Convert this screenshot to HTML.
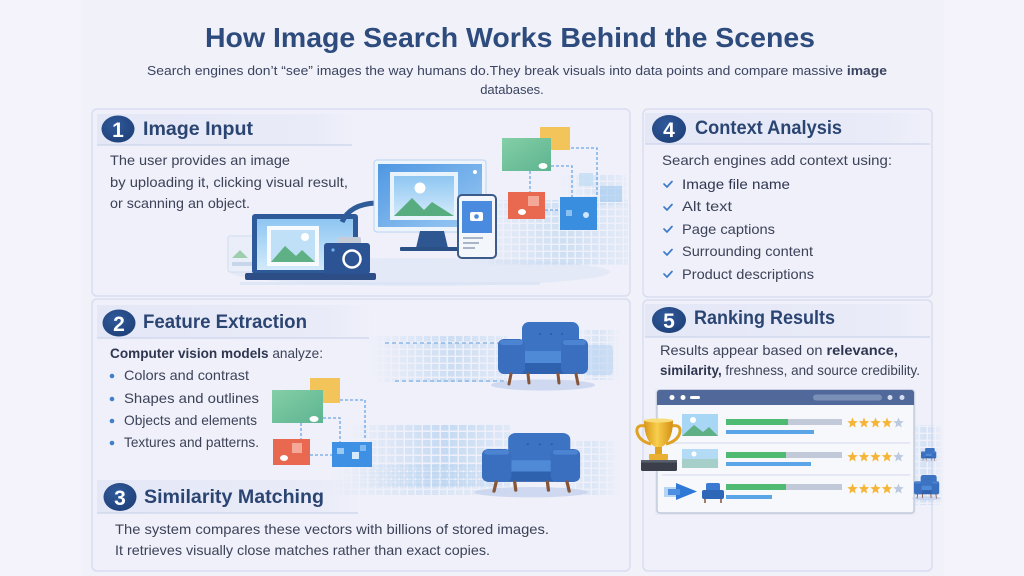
<!DOCTYPE html>
<html><head><meta charset="utf-8"><style>
html,body{margin:0;padding:0;width:1024px;height:576px;overflow:hidden;background:#f4f3fb;}
svg{display:block}
text{font-family:"Liberation Sans",sans-serif}
</style></head><body>
<svg width="1024" height="576" viewBox="0 0 1024 576" xmlns="http://www.w3.org/2000/svg">
<defs>
  <pattern id="px" width="8" height="7" patternUnits="userSpaceOnUse"><rect width="6.5" height="5.6" fill="#b3d1ee"/></pattern>
  <pattern id="px2" width="9" height="8" patternUnits="userSpaceOnUse"><rect width="7.5" height="6.5" fill="#a6cbee"/></pattern>
  <linearGradient id="fadeL" x1="0" x2="1" y1="0" y2="0"><stop offset="0" stop-color="#fff" stop-opacity="0"/><stop offset="0.6" stop-color="#fff" stop-opacity="0.9"/><stop offset="1" stop-color="#fff" stop-opacity="0.3"/></linearGradient>
  <linearGradient id="fadeLR" x1="0" x2="1" y1="0" y2="0"><stop offset="0" stop-color="#fff" stop-opacity="0"/><stop offset="0.5" stop-color="#fff" stop-opacity="1"/><stop offset="1" stop-color="#fff" stop-opacity="0"/></linearGradient>
  <mask id="mL" maskContentUnits="objectBoundingBox"><rect width="1" height="1" fill="url(#fadeL)"/></mask>
  <mask id="mLR" maskContentUnits="objectBoundingBox"><rect width="1" height="1" fill="url(#fadeLR)"/></mask>
  <linearGradient id="band" x1="0" x2="1"><stop offset="0" stop-color="#e4e7f6"/><stop offset="0.85" stop-color="#e9ebf8"/><stop offset="1" stop-color="#eceef9" stop-opacity="0.4"/></linearGradient>
  <radialGradient id="circ" cx="0.4" cy="0.35" r="0.7"><stop offset="0" stop-color="#30599a"/><stop offset="1" stop-color="#1f4179"/></radialGradient>
  <linearGradient id="sky" x1="0" y1="0" x2="0" y2="1"><stop offset="0" stop-color="#8ec6f2"/><stop offset="1" stop-color="#d3eafb"/></linearGradient>
  <linearGradient id="scr" x1="0" y1="0" x2="1" y2="1"><stop offset="0" stop-color="#4f97e2"/><stop offset="1" stop-color="#9ccaf3"/></linearGradient>
  <linearGradient id="gold" x1="0" y1="0" x2="1" y2="0"><stop offset="0" stop-color="#d99516"/><stop offset="0.45" stop-color="#f8cf4e"/><stop offset="1" stop-color="#d48f12"/></linearGradient>
  <linearGradient id="green" x1="0" y1="0" x2="1" y2="1"><stop offset="0" stop-color="#84cfa6"/><stop offset="1" stop-color="#5db491"/></linearGradient>
  <polygon id="st" points="0,-5.5 1.41,-1.94 5.23,-1.7 2.28,0.74 3.23,4.45 0,2.4 -3.23,4.45 -2.28,0.74 -5.23,-1.7 -1.41,-1.94"/>
  <g id="chair">
    <ellipse cx="45" cy="63" rx="52" ry="5.5" fill="#c5d2ee" opacity="0.8"/>
    <rect x="24" y="0" width="57" height="34" rx="7" fill="#3c73c3"/>
    <circle cx="42" cy="12" r="1" fill="#2a5aa3"/><circle cx="53" cy="12" r="1" fill="#2a5aa3"/><circle cx="64" cy="12" r="1" fill="#2a5aa3"/>
    <rect x="12" y="29" width="66" height="15" rx="4" fill="#4f8ad6"/>
    <rect x="3" y="41" width="84" height="11" rx="3" fill="#2e61ae"/>
    <rect x="0" y="17" width="27" height="35" rx="6" fill="#3a6ebf"/>
    <rect x="63" y="17" width="27" height="35" rx="6" fill="#3a6ebf"/>
    <rect x="2" y="18" width="23" height="5" rx="2.5" fill="#4c84d2"/>
    <rect x="65" y="18" width="23" height="5" rx="2.5" fill="#4c84d2"/>
    <g stroke="#85563a" stroke-width="3" stroke-linecap="round">
      <line x1="13" y1="52" x2="11" y2="62"/><line x1="30" y1="52" x2="31" y2="61"/>
      <line x1="60" y1="52" x2="61" y2="61"/><line x1="78" y1="52" x2="80" y2="62"/>
    </g>
  </g>
</defs>

<!-- background -->
<rect width="1024" height="576" fill="#f4f3fb"/>
<rect x="82" y="0" width="862" height="576" fill="#f1f1f9"/>

<!-- title -->
<text x="205" y="47" font-size="28" font-weight="bold" fill="#2d4b7c" textLength="610" lengthAdjust="spacingAndGlyphs">How Image Search Works Behind the Scenes</text>
<text x="147" y="75" font-size="13" fill="#3a4460" textLength="740" lengthAdjust="spacingAndGlyphs">Search engines don’t “see” images the way humans do.They break visuals into data points and compare massive <tspan font-weight="bold">image</tspan></text>
<text x="512" y="94" font-size="13" fill="#3a4460" text-anchor="middle">databases.</text>

<!-- panels -->
<rect x="92" y="109" width="538" height="187" rx="5" fill="#eff0f9" stroke="#d8ddef" stroke-width="1.5"/>
<rect x="92" y="299" width="538" height="272" rx="5" fill="#eff0f9" stroke="#d8ddef" stroke-width="1.5"/>
<rect x="643" y="109" width="289" height="188" rx="5" fill="#eff0f9" stroke="#d8ddef" stroke-width="1.5"/>
<rect x="643" y="300" width="289" height="271" rx="5" fill="#eff0f9" stroke="#d8ddef" stroke-width="1.5"/>

<!-- header bands -->
<rect x="97" y="114" width="255" height="31" fill="url(#band)"/><line x1="97" y1="145" x2="352" y2="145" stroke="#d2d8ee" stroke-width="1.5"/>
<rect x="97" y="305" width="272" height="33" fill="url(#band)"/><line x1="97" y1="338" x2="369" y2="338" stroke="#d2d8ee" stroke-width="1.5"/>
<rect x="97" y="480" width="261" height="33" fill="url(#band)"/><line x1="97" y1="513" x2="358" y2="513" stroke="#d2d8ee" stroke-width="1.5"/>
<rect x="645" y="113" width="285" height="31" fill="url(#band)"/><line x1="645" y1="144" x2="930" y2="144" stroke="#d2d8ee" stroke-width="1.5"/>
<rect x="645" y="304" width="285" height="33" fill="url(#band)"/><line x1="645" y1="337" x2="930" y2="337" stroke="#d2d8ee" stroke-width="1.5"/>

<!-- number circles -->
<g font-weight="bold" font-size="21" fill="#fff" text-anchor="middle">
  <ellipse cx="118" cy="129" rx="16.5" ry="13.5" fill="url(#circ)"/><text x="118" y="137">1</text>
  <ellipse cx="119" cy="323" rx="16.5" ry="13.5" fill="url(#circ)"/><text x="119" y="331">2</text>
  <ellipse cx="120" cy="497" rx="16.5" ry="14" fill="url(#circ)"/><text x="120" y="505">3</text>
  <ellipse cx="669" cy="129" rx="17" ry="14" fill="url(#circ)"/><text x="669" y="137">4</text>
  <ellipse cx="669" cy="320" rx="17" ry="13" fill="url(#circ)"/><text x="669" y="328">5</text>
</g>

<!-- headers -->
<g font-size="19" font-weight="bold" fill="#2b4572">
  <text x="143" y="135" textLength="110" lengthAdjust="spacingAndGlyphs">Image Input</text>
  <text x="143" y="328" textLength="164" lengthAdjust="spacingAndGlyphs">Feature Extraction</text>
  <text x="144" y="503" textLength="180" lengthAdjust="spacingAndGlyphs">Similarity Matching</text>
  <text x="695" y="134" textLength="147" lengthAdjust="spacingAndGlyphs">Context Analysis</text>
  <text x="694" y="324" textLength="141" lengthAdjust="spacingAndGlyphs">Ranking Results</text>
</g>

<!-- body texts -->
<g font-size="14" fill="#3c4258">
  <text x="110" y="165" textLength="180" lengthAdjust="spacingAndGlyphs">The user provides an image</text>
  <text x="110" y="187" textLength="238" lengthAdjust="spacingAndGlyphs">by uploading it, clicking visual result,</text>
  <text x="110" y="208" textLength="140" lengthAdjust="spacingAndGlyphs">or scanning an object.</text>

  <text x="110" y="358" textLength="213" lengthAdjust="spacingAndGlyphs"><tspan font-weight="bold" fill="#2f3650">Computer vision models</tspan> analyze:</text>
  <text x="124" y="380" textLength="125" lengthAdjust="spacingAndGlyphs">Colors and contrast</text>
  <text x="124" y="403" textLength="135" lengthAdjust="spacingAndGlyphs">Shapes and outlines</text>
  <text x="124" y="425" textLength="133" lengthAdjust="spacingAndGlyphs">Objects and elements</text>
  <text x="124" y="447" textLength="135" lengthAdjust="spacingAndGlyphs">Textures and patterns.</text>

  <text x="115" y="534" textLength="434" lengthAdjust="spacingAndGlyphs">The system compares these vectors with billions of stored images.</text>
  <text x="115" y="555" textLength="375" lengthAdjust="spacingAndGlyphs">It retrieves visually close matches rather than exact copies.</text>

  <text x="662" y="165" textLength="230" lengthAdjust="spacingAndGlyphs">Search engines add context using:</text>
  <text x="682" y="189" textLength="108" lengthAdjust="spacingAndGlyphs" fill="#2f3650">Image file name</text>
  <text x="682" y="211" textLength="50" lengthAdjust="spacingAndGlyphs">Alt text</text>
  <text x="682" y="234" textLength="93" lengthAdjust="spacingAndGlyphs">Page captions</text>
  <text x="682" y="256" textLength="131" lengthAdjust="spacingAndGlyphs">Surrounding content</text>
  <text x="682" y="279" textLength="132" lengthAdjust="spacingAndGlyphs">Product descriptions</text>

  <text x="660" y="355" textLength="238" lengthAdjust="spacingAndGlyphs">Results appear based on <tspan font-weight="bold" fill="#2f3650">relevance,</tspan></text>
  <text x="660" y="375" textLength="260" lengthAdjust="spacingAndGlyphs"><tspan font-weight="bold" fill="#2f3650">similarity,</tspan> freshness, and source credibility.</text>
</g>

<!-- bullets -->
<g fill="#3f80c8">
  <circle cx="112" cy="376" r="2.3"/><circle cx="112" cy="399" r="2.3"/><circle cx="112" cy="421" r="2.3"/><circle cx="112" cy="443" r="2.3"/>
</g>
<!-- checks -->
<g fill="none" stroke="#3d7cc9" stroke-width="1.7" stroke-linecap="round" stroke-linejoin="round">
  <path d="M664 184 l3 3 l5 -5.5"/><path d="M664 207 l3 3 l5 -5.5"/><path d="M664 229 l3 3 l5 -5.5"/><path d="M664 252 l3 3 l5 -5.5"/><path d="M664 274 l3 3 l5 -5.5"/>
</g>

<!-- ===== Panel 1 illustration ===== -->
<ellipse cx="420" cy="272" rx="190" ry="14" fill="#dfe6f6" opacity="0.7"/>
<rect x="240" y="282" width="300" height="3" fill="#d9e3f5" opacity="0.7"/>
<rect x="470" y="200" width="158" height="66" fill="url(#px)" mask="url(#mL)" opacity="0.6"/>
<rect x="560" y="175" width="66" height="30" fill="url(#px)" mask="url(#mL)" opacity="0.4"/>
<!-- small faded window -->
<rect x="228" y="236" width="34" height="36" rx="2" fill="#e9eef8" stroke="#d3dcee"/>
<polygon points="232,258 240,250 248,258" fill="#9dcfae"/>
<rect x="232" y="262" width="20" height="4" fill="#c8d6ec"/>
<!-- laptop -->
<rect x="252" y="214" width="106" height="60" rx="3" fill="#2f5a9a"/>
<rect x="257" y="219" width="96" height="51" fill="url(#sky)"/>
<rect x="267" y="226" width="52" height="40" fill="#f7fbff"/>
<rect x="271" y="230" width="44" height="32" fill="#bfe0f7"/>
<polygon points="271,262 285,246 296,256 302,250 315,262" fill="#5fb085"/>
<circle cx="305" cy="237" r="4" fill="#fff"/>
<rect x="245" y="273" width="131" height="7" rx="2" fill="#2c4d85"/>
<!-- camera -->
<rect x="338" y="237" width="23" height="8" rx="2" fill="#c7cdd8"/>
<rect x="324" y="243" width="46" height="31" rx="3" fill="#2c5494"/>
<circle cx="352" cy="259" r="8.5" fill="#2c5494" stroke="#fff" stroke-width="2.5"/>
<circle cx="333" cy="250" r="1.6" fill="#6fb2f0"/>
<!-- arrow -->
<path d="M342 222 Q350 204 376 203" fill="none" stroke="#2f5c99" stroke-width="5"/>
<polygon points="374,196 388,203 374,211" fill="#2f5c99"/>
<!-- monitor -->
<rect x="374" y="160" width="112" height="72" rx="3" fill="#eef4fc" stroke="#b9d3ef"/>
<rect x="378" y="164" width="104" height="63" fill="url(#scr)"/>
<rect x="390" y="172" width="68" height="48" fill="#e9f3fc"/>
<rect x="394" y="176" width="60" height="40" fill="url(#sky)"/>
<polygon points="394,216 412,198 424,210 432,202 454,216" fill="#58ad80"/>
<circle cx="420" cy="188" r="5.5" fill="#fff"/>
<circle cx="475" cy="172" r="2" fill="#fff"/>
<polygon points="420,231 444,231 448,248 416,248" fill="#2e5690"/>
<rect x="400" y="247" width="62" height="4" rx="1" fill="#2b4f87"/>
<!-- phone -->
<rect x="458" y="195" width="38" height="63" rx="4" fill="#f3f6fb" stroke="#3c5a8a" stroke-width="2"/>
<rect x="462" y="201" width="30" height="32" fill="#4a8be0"/>
<rect x="470" y="212" width="13" height="9" rx="2" fill="#fff"/><circle cx="476.5" cy="216.5" r="2.3" fill="#4a8be0"/>
<rect x="463" y="237" width="20" height="2" fill="#a9b4c6"/><rect x="463" y="242" width="16" height="2" fill="#a9b4c6"/><rect x="463" y="247" width="12" height="2" fill="#a9b4c6"/>
<!-- tiles panel1 -->
<g fill="none" stroke="#6aa6e6" stroke-width="1.3" stroke-dasharray="3,2">
  <path d="M551 148 H597 V197"/><path d="M551 166 H572 V197"/><path d="M530 171 V192"/><path d="M545 210 H560"/>
</g>
<rect x="540" y="127" width="30" height="23" fill="#f3c45a"/>
<rect x="502" y="138" width="49" height="33" fill="url(#green)"/>
<ellipse cx="543" cy="166" rx="4.5" ry="3" fill="#fff"/>
<rect x="508" y="192" width="37" height="27" fill="#e8694f"/>
<rect x="528" y="196" width="11" height="10" fill="#f4a898"/>
<ellipse cx="522" cy="212" rx="4" ry="3" fill="#fff"/>
<rect x="560" y="197" width="37" height="33" fill="#3a8ee0"/>
<rect x="566" y="210" width="6" height="6" fill="#8cc0f0"/><circle cx="586" cy="215" r="3" fill="#cfe6fb"/>
<rect x="579" y="173" width="14" height="13" fill="#c3ddf4" opacity="0.8"/>
<rect x="600" y="186" width="22" height="16" fill="#9fc8ee" opacity="0.6"/>

<!-- ===== Panel 2 illustration ===== -->
<rect x="372" y="336" width="135" height="46" fill="url(#px)" mask="url(#mL)" opacity="0.65"/>
<rect x="575" y="330" width="45" height="50" fill="url(#px)" mask="url(#mLR)" opacity="0.4"/>
<g stroke="#8cb8e6" stroke-width="1.5" stroke-dasharray="4,3">
  <line x1="385" y1="343" x2="505" y2="343"/><line x1="395" y1="381" x2="505" y2="381"/>
</g>
<rect x="585" y="345" width="28" height="30" rx="4" fill="#b6d1f0" opacity="0.55"/>
<use href="#chair" transform="translate(498,322)"/>
<rect x="350" y="425" width="160" height="62" fill="url(#px2)" mask="url(#mL)" opacity="0.65"/>
<rect x="330" y="465" width="200" height="30" fill="url(#px)" mask="url(#mLR)" opacity="0.4"/>
<rect x="560" y="440" width="60" height="55" fill="url(#px)" mask="url(#mLR)" opacity="0.35"/>
<use href="#chair" transform="translate(482,433) scale(1.09,0.94)"/>
<!-- tiles panel2 -->
<g fill="none" stroke="#6aa6e6" stroke-width="1.3" stroke-dasharray="3,2">
  <path d="M340 400 H365 V440"/><path d="M323 418 H340 V442"/><path d="M301 423 V439"/><path d="M310 455 H332"/>
</g>
<rect x="310" y="378" width="30" height="25" fill="#f3c45a"/>
<rect x="272" y="390" width="51" height="33" fill="url(#green)"/>
<ellipse cx="314" cy="419" rx="4.5" ry="3" fill="#fff"/>
<rect x="273" y="439" width="37" height="26" fill="#e8694f"/>
<rect x="292" y="443" width="10" height="10" fill="#f4a898"/>
<ellipse cx="284" cy="458" rx="4" ry="3" fill="#fff"/>
<rect x="332" y="442" width="40" height="25" fill="#3d90e3"/>
<rect x="337" y="448" width="7" height="6" fill="#9cc9f2"/><rect x="352" y="452" width="7" height="7" fill="#d6eafb"/><rect x="360" y="445" width="6" height="6" fill="#7fb8ee"/>

<!-- ===== Panel 5 illustration ===== -->
<rect x="905" y="425" width="40" height="80" fill="url(#px)" mask="url(#mLR)" opacity="0.45"/>
<rect x="655" y="389" width="261" height="126" rx="3" fill="#dfe4ef" opacity="0.6"/>
<rect x="657" y="390" width="257" height="123" rx="3" fill="#f7f8fc" stroke="#b7c2d8" stroke-width="1.2"/>
<path d="M657 405 V393 Q657 390 660 390 H911 Q914 390 914 393 V405 Z" fill="#51699a"/>
<circle cx="672" cy="397.5" r="2.5" fill="#fff"/><circle cx="683" cy="397.5" r="2.5" fill="#fff"/><rect x="690" y="396" width="10" height="3" rx="1.5" fill="#fff"/>
<rect x="813" y="394.5" width="69" height="6" rx="3" fill="#7a8fb6"/>
<circle cx="890" cy="397.5" r="2.5" fill="#d6deee"/><circle cx="902" cy="397.5" r="2.5" fill="#d6deee"/>
<line x1="662" y1="443" x2="910" y2="443" stroke="#d9dfec" stroke-width="1.2"/>
<line x1="662" y1="475" x2="910" y2="475" stroke="#d9dfec" stroke-width="1.2"/>
<!-- row1 -->
<rect x="682" y="414" width="36" height="22" fill="#a8d6f5"/>
<polygon points="682,436 694,425 703,432 709,427 718,436" fill="#5fb085"/>
<circle cx="693" cy="420" r="3" fill="#fff"/>
<rect x="726" y="419" width="116" height="6" fill="#c2c9d8"/><rect x="726" y="419" width="62" height="6" fill="#4fba72"/>
<rect x="726" y="430" width="88" height="4" fill="#5aa5e8"/>
<!-- row2 -->
<rect x="682" y="449" width="36" height="10" fill="#b4dbf5"/><rect x="682" y="459" width="36" height="9" fill="#a7cfc9"/>
<circle cx="694" cy="454" r="2.5" fill="#fff"/>
<rect x="726" y="452" width="116" height="6" fill="#c2c9d8"/><rect x="726" y="452" width="60" height="6" fill="#4fba72"/>
<rect x="726" y="462" width="85" height="4" fill="#5aa5e8"/>
<!-- row3 -->
<rect x="664" y="487" width="16" height="10" fill="#8cbcec" opacity="0.6"/>
<polygon points="676,483 697,491.5 676,500" fill="#2f78d6"/>
<rect x="668" y="489" width="12" height="6" fill="#4d8fe0"/>
<rect x="706" y="483" width="14" height="12" rx="2" fill="#3b7ad0"/>
<rect x="702" y="490" width="22" height="9" rx="2" fill="#2f67b8"/>
<line x1="705" y1="499" x2="705" y2="503" stroke="#85563a" stroke-width="1.5"/><line x1="721" y1="499" x2="721" y2="503" stroke="#85563a" stroke-width="1.5"/>
<rect x="726" y="484" width="116" height="6" fill="#c2c9d8"/><rect x="726" y="484" width="60" height="6" fill="#4fba72"/>
<rect x="726" y="495" width="46" height="4" fill="#5aa5e8"/>
<!-- stars -->
<g fill="#f5b637">
  <use href="#st" x="852.5" y="423"/><use href="#st" x="864" y="423"/><use href="#st" x="875.5" y="423"/><use href="#st" x="887" y="423"/>
  <use href="#st" x="852.5" y="457"/><use href="#st" x="864" y="457"/><use href="#st" x="875.5" y="457"/><use href="#st" x="887" y="457"/>
  <use href="#st" x="852.5" y="489"/><use href="#st" x="864" y="489"/><use href="#st" x="875.5" y="489"/><use href="#st" x="887" y="489"/>
</g>
<g fill="#bccadf">
  <use href="#st" x="898.5" y="423"/><use href="#st" x="898.5" y="457"/><use href="#st" x="898.5" y="489"/>
</g>
<!-- trophy -->
<path d="M646 426 Q636 424 637 432 Q639 441 651 444" fill="none" stroke="#e0a224" stroke-width="3"/>
<path d="M671 426 Q681 424 680 432 Q678 441 666 444" fill="none" stroke="#e0a224" stroke-width="3"/>
<path d="M644 420 H673 Q673 444 658.5 448 Q644 444 644 420 Z" fill="url(#gold)"/>
<ellipse cx="658.5" cy="420.5" rx="14.5" ry="2" fill="#f9dc7a"/>
<rect x="655" y="447" width="7" height="8" fill="#e0a224"/>
<rect x="649" y="454" width="19" height="6" rx="1" fill="#e9b033"/>
<rect x="641" y="460" width="36" height="11" rx="1.5" fill="#3b3f4b"/>
<rect x="641" y="460" width="36" height="2.5" fill="#5a5f6c"/>
<!-- small chairs right -->
<g transform="translate(921,448) scale(0.17,0.2)"><use href="#chair"/></g>
<g transform="translate(914,475) scale(0.28,0.37)"><use href="#chair"/></g>
</svg>
</body></html>
